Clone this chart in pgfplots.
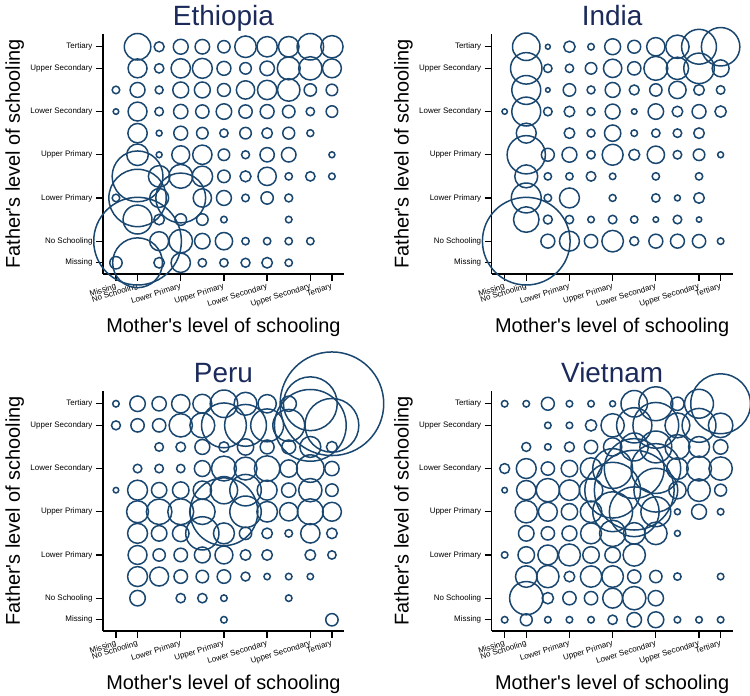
\documentclass[border=0pt]{standalone}
\usepackage{fontspec}
\setmainfont{Liberation Sans}
\usepackage{pgfplots}
\pgfplotsset{compat=1.18}
\definecolor{bub}{RGB}{26,71,111}
\definecolor{titlec}{RGB}{27,42,90}

\pgfplotsset{
  panel/.style={
    scale only axis, width=240.8bp, height=240.2bp,
    xmin=-0.6, xmax=10.55, ymin=-0.52, ymax=10.6,
    clip=false,
    axis x line*=bottom, axis y line*=left,
    axis line style={line width=1.3bp, black, -},
    tick align=outside, major tick length=7bp,
    tick style={line width=1.3bp, black},
    xtick={0,1,3,5,7,9,10}, ytick={0,1,3,5,7,9,10},
    xticklabels={Missing, No Schooling, Lower Primary, Upper Primary, Lower Secondary, Upper Secondary, Tertiary},
    yticklabels={Missing, No Schooling, Lower Primary, Upper Primary, Lower Secondary, Upper Secondary, Tertiary},
    ticklabel style={font=\fontsize{8}{9}\selectfont},
    xticklabel style={rotate=17, anchor=north east, inner sep=1.5pt},
    every axis title/.style={at={(axis description cs:0.5,1.036)}, anchor=base,
      font=\fontsize{28}{30}\selectfont, text=titlec},
    every axis x label/.style={at={(axis description cs:0.5,-0.2456)}, anchor=base,
      font=\fontsize{20}{22}\selectfont},
    every axis y label/.style={at={(axis description cs:-0.345,0.5)}, rotate=90, anchor=base,
      font=\fontsize{20}{22}\selectfont},
    xlabel={Mother\textquotesingle s level of schooling},
    ylabel={Father\textquotesingle s level of schooling},
  },
  bubbles/.style={
    scatter, only marks, mark=o,
    scatter/use mapped color={draw=bub, fill=none},
    mark options={line width=1.5bp},
    visualization depends on={\thisrow{r}\as\rad},
    scatter/@pre marker code/.append style={/tikz/mark size=\rad},
  },
}

\begin{document}
\begin{tikzpicture}
\useasboundingbox (0,0) rectangle (750bp,696bp);

% Ethiopia
\begin{axis}[panel, at={(103bp,422bp)}, anchor=south west, title={Ethiopia}]
\addplot[bubbles] table {
x y r
1 10 13.3
2 10 5
3 10 7.5
4 10 7.3
5 10 6.2
6 10 10.8
7 10 10.2
8 10 10.3
9 10 13.3
10 10 11.2
1 9 9.5
2 9 4.7
3 9 9.7
4 9 10
5 9 7
6 9 5.8
7 9 7.3
8 9 11.5
9 9 11.7
10 9 9.5
0 8 3.8
1 8 7.5
2 8 4
3 8 8
4 8 8
5 8 6.5
6 8 9.2
7 8 9.7
8 8 11.3
9 8 6.2
10 8 5.8
0 7 2.8
1 7 9.5
2 7 4.3
3 7 7.2
4 7 6.7
5 7 7.8
6 7 6.7
7 7 7
8 7 6.3
9 7 4.2
10 7 5.8
1 6 9.7
2 6 3
3 6 7
4 6 5.8
5 6 4.2
6 6 5.8
7 6 5.3
8 6 6
9 6 3.5
1 5 10.8
2 5 3
3 5 9
4 5 9.7
5 5 5.8
6 5 4
7 5 7.2
8 5 7.3
10 5 3
1 4 25.5
2 4 10.8
3 4 12
4 4 10.3
5 4 6.3
6 4 5.5
7 4 9.2
8 4 3.7
9 4 4.7
10 4 3.3
0 3 3.8
1 3 28.8
2 3 9.5
3 3 25
4 3 9.2
5 3 7.5
6 3 3.8
7 3 6.2
8 3 4
1 2 14.5
2 2 5.3
3 2 5.8
4 2 5.8
5 2 3.3
8 2 3.3
1 1 44
2 1 9.5
3 1 11.8
4 1 7.8
5 1 8.7
6 1 3.7
7 1 3.7
8 1 3.7
9 1 3.7
0 0 6.2
1 0 25
2 0 5.3
3 0 9.7
4 0 4.2
5 0 4.2
6 0 4.5
7 0 5.3
8 0 3.7
};
\end{axis}

% India
\begin{axis}[panel, at={(491.7bp,422bp)}, anchor=south west, title={India}]
\addplot[bubbles] table {
x y r
1 10 13.8
2 10 2.5
3 10 5.7
4 10 3.3
5 10 8
6 10 6.5
7 10 9.2
8 10 11.7
9 10 17.5
10 10 19.3
1 9 15.8
2 9 4.2
3 9 4.2
4 9 5.8
5 9 9.2
6 9 6.7
7 9 12
8 9 11.2
9 9 15.3
10 9 8.5
1 8 14.5
2 8 2.3
3 8 6.3
4 8 4
5 8 7.5
6 8 5
7 8 6.2
8 8 8.7
9 8 5.3
10 8 4.3
0 7 2.7
1 7 14.5
2 7 4.3
3 7 5.3
4 7 4
5 7 7.5
6 7 2.8
7 7 7.8
8 7 5.3
9 7 7
10 7 5.7
1 6 10
3 6 5.3
4 6 4
5 6 8.2
6 6 3.3
7 6 4.2
8 6 4.3
9 6 5.3
1 5 19.2
2 5 6.5
3 5 7.5
4 5 4.2
5 5 10.5
6 5 5.5
7 5 8.7
8 5 4.3
9 5 5.8
10 5 3
1 4 11.5
2 4 3.7
3 4 3.7
4 4 4.8
5 4 3.3
7 4 3.7
9 4 3.7
1 3 15
2 3 3.8
3 3 10
5 3 3.5
7 3 4.2
8 3 3
9 3 5.3
1 2 12.8
2 2 4.5
3 2 4.2
4 2 3.3
5 2 4.3
6 2 3.7
7 2 2.8
8 2 4.3
9 2 2.7
1 1 44
2 1 7
3 1 10
4 1 6.7
5 1 10.8
6 1 4.5
7 1 7
8 1 7
9 1 6.7
10 1 3.3
};
\end{axis}

% Peru
\begin{axis}[panel, at={(103bp,65bp)}, anchor=south west, title={Peru}]
\addplot[bubbles] table {
x y r
0 10 3.3
1 10 7.8
2 10 7.2
3 10 9.2
4 10 9.5
5 10 13.8
6 10 11.5
7 10 9.2
8 10 7.7
9 10 27
10 10 52
0 9 4.5
1 9 6.7
2 9 6.7
3 9 11.7
4 9 12.5
5 9 22.5
6 9 21
7 9 16.5
8 9 16
9 9 36
10 9 27
2 8 4.3
3 8 4.8
4 8 7.5
5 8 5.2
6 8 8.2
7 8 7
8 8 7
9 8 10.5
10 8 5.5
1 7 4.3
2 7 4.3
3 7 4.2
4 7 8
5 7 12.5
6 7 11.5
7 7 12.8
8 7 8.7
9 7 13.8
10 7 7.2
0 6 2.8
1 6 10
2 6 7.7
3 6 8.3
4 6 9.2
5 6 13.7
6 6 15.8
7 6 10
8 6 7.2
9 6 11.7
10 6 6.3
1 5 11
2 5 12.8
3 5 13
4 5 12.8
5 5 34
6 5 15.8
7 5 10.3
8 5 9.2
9 5 13
10 5 9.5
1 4 10
2 4 7.8
3 4 8.3
4 4 16.7
5 4 10.5
6 4 6.2
7 4 5.3
8 4 3.8
9 4 9.7
10 4 5.3
1 3 9.5
2 3 6.2
3 3 6.8
4 3 8
5 3 9
6 3 5.3
7 3 5.3
9 3 5.3
10 3 4.2
1 2 10
2 2 9.5
3 2 6.8
4 2 6.3
5 2 6.8
6 2 4.5
7 2 3.2
8 2 3.3
9 2 3.2
1 1 7.8
3 1 4.7
4 1 4.7
5 1 3.3
8 1 3.3
5 0 3.3
10 0 6.2
};
\end{axis}

% Vietnam
\begin{axis}[panel, at={(491.7bp,65bp)}, anchor=south west, title={Vietnam}]
\addplot[bubbles] table {
x y r
0 10 3.3
1 10 3.3
2 10 6.5
3 10 3.3
4 10 3.3
5 10 3
6 10 13.3
7 10 17
8 10 6.7
9 10 14.5
10 10 30
2 9 3.3
3 9 3.3
4 9 5.7
5 9 11.7
6 9 17.7
7 9 23
8 9 12.5
9 9 17
10 9 12.3
1 8 4.5
2 8 3.3
3 8 5
4 8 6.7
5 8 9.2
6 8 14
7 8 16
8 8 12.5
9 8 10.5
10 8 7.3
0 7 5
1 7 10
2 7 6.7
3 7 8.3
4 7 10.8
5 7 20
6 7 30
7 7 25
8 7 10.8
9 7 12.5
10 7 11.7
0 6 2.8
1 6 9.7
2 6 11.7
3 6 10.3
4 6 11.8
5 6 28
6 6 40
7 6 22
8 6 8.7
9 6 11.3
10 6 6
1 5 11.2
2 5 9.5
3 5 8.2
4 5 10.8
5 5 20
6 5 25
7 5 15
8 5 3
9 5 7.5
10 5 3.3
1 4 7.8
2 4 6.7
3 4 7.5
4 4 10.5
5 4 13.2
6 4 10.8
7 4 11.3
8 4 3
0 3 3.3
1 3 8.3
2 3 10
3 3 11
4 3 8.3
5 3 7.8
6 3 11.2
1 2 10.8
2 2 11.2
3 2 5.3
4 2 10.7
5 2 10.8
6 2 6.7
7 2 6.2
8 2 3.7
10 2 3.3
1 1 16.7
2 1 5.7
3 1 6.7
4 1 6.7
5 1 10
6 1 11.7
7 1 7.7
0 0 3.3
1 0 6
2 0 3.3
3 0 3.3
4 0 3.3
5 0 4.7
6 0 7.3
7 0 8
8 0 3.3
9 0 3.3
10 0 3.3
};
\end{axis}
\end{tikzpicture}
\end{document}
